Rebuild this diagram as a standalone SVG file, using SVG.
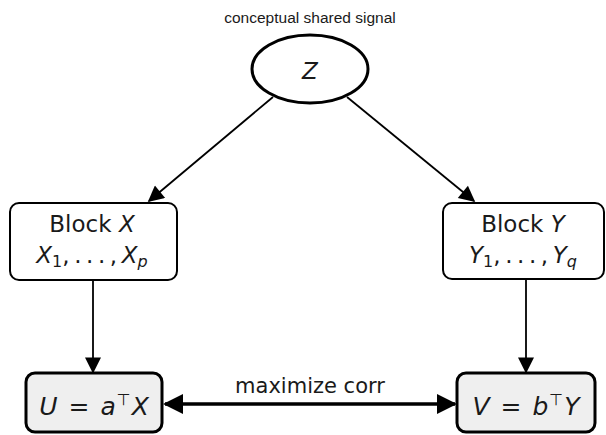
<svg xmlns="http://www.w3.org/2000/svg" width="606" height="435" viewBox="0 0 606 435">
  <style>
    text { font-family: "DejaVu Sans", "Liberation Sans", sans-serif; fill: #1a1a1a; }
    .title { font-family: "Liberation Sans", Arial, sans-serif; font-size: 15.5px; }
    .lbl { font-size: 23px; }
    .big { font-size: 25px; }
    .math { font-style: italic; }
    .node { fill: #ffffff; stroke: #000; stroke-width: 2; }
    .ell { fill: #ffffff; stroke: #000; stroke-width: 3; }
    .out { fill: #efefef; stroke: #000; stroke-width: 3; }
    .edge { stroke: #000; stroke-width: 1.8; fill: none; }
    .thick { stroke: #000; stroke-width: 3.5; fill: none; }
  </style>
  <defs>
    <marker id="big" viewBox="0 0 10 10" refX="9" refY="5" markerWidth="26" markerHeight="20" markerUnits="userSpaceOnUse" orient="auto-start-reverse">
      <path d="M0,0 L10,5 L0,10 z" fill="#000"/>
    </marker>
    <marker id="mid" viewBox="0 0 10 10" refX="9" refY="5" markerWidth="18" markerHeight="16" markerUnits="userSpaceOnUse" orient="auto">
      <path d="M0,0 L10,5 L0,10 z" fill="#000"/>
    </marker>
  </defs>

  <text class="title" x="310" y="23" text-anchor="middle">conceptual shared signal</text>

  <g id="edges">
    <line class="edge" x1="273" y1="97" x2="149" y2="201" marker-end="url(#mid)"/>
    <line class="edge" x1="347" y1="97" x2="474" y2="201" marker-end="url(#mid)"/>
    <line class="edge" x1="93" y1="280" x2="93" y2="372" marker-end="url(#mid)"/>
    <line class="edge" x1="526" y1="279" x2="526" y2="372" marker-end="url(#mid)"/>
    <line class="thick" x1="165" y1="404" x2="455" y2="404" marker-start="url(#big)" marker-end="url(#big)"/>
    <text x="310" y="393" text-anchor="middle" font-size="21">maximize corr</text>
  </g>

  <g id="z">
    <ellipse class="ell" cx="310" cy="69" rx="58" ry="34"/>
    <text class="math" font-size="23" x="310" y="79" text-anchor="middle">Z</text>
  </g>

  <g id="blockX">
    <rect class="node" x="10" y="203" width="167" height="77" rx="9"/>
    <text class="lbl" x="92" y="232" text-anchor="middle">Block <tspan class="math">X</tspan></text>
    <text class="lbl" x="92" y="263" text-anchor="middle"><tspan class="math">X</tspan><tspan font-size="16" dy="4">1</tspan><tspan dy="-4">,&#8201;.&#8201;.&#8201;.&#8201;,&#8201;</tspan><tspan class="math">X</tspan><tspan class="math" font-size="16" dy="4">p</tspan></text>
  </g>

  <g id="blockY">
    <rect class="node" x="443" y="203" width="161" height="76" rx="9"/>
    <text class="lbl" x="523" y="232" text-anchor="middle">Block <tspan class="math">Y</tspan></text>
    <text class="lbl" x="523" y="263" text-anchor="middle"><tspan class="math">Y</tspan><tspan font-size="16" dy="4">1</tspan><tspan dy="-4">,&#8201;.&#8201;.&#8201;.&#8201;,&#8201;</tspan><tspan class="math">Y</tspan><tspan class="math" font-size="16" dy="4">q</tspan></text>
  </g>

  <g id="u">
    <rect class="out" x="26" y="373" width="136" height="59" rx="9"/>
    <text class="big" x="94" y="415" text-anchor="middle"><tspan class="math">U</tspan><tspan dx="3"> = </tspan><tspan class="math" dx="3">a</tspan><tspan font-size="16" dy="-10" dx="1">⊤</tspan><tspan class="math" dy="10" dx="1">X</tspan></text>
  </g>

  <g id="v">
    <rect class="out" x="457" y="373" width="138" height="59" rx="9"/>
    <text class="big" x="526" y="415" text-anchor="middle"><tspan class="math">V</tspan><tspan dx="3"> = </tspan><tspan class="math" dx="3">b</tspan><tspan font-size="16" dy="-10" dx="1">⊤</tspan><tspan class="math" dy="10" dx="1">Y</tspan></text>
  </g>
</svg>
